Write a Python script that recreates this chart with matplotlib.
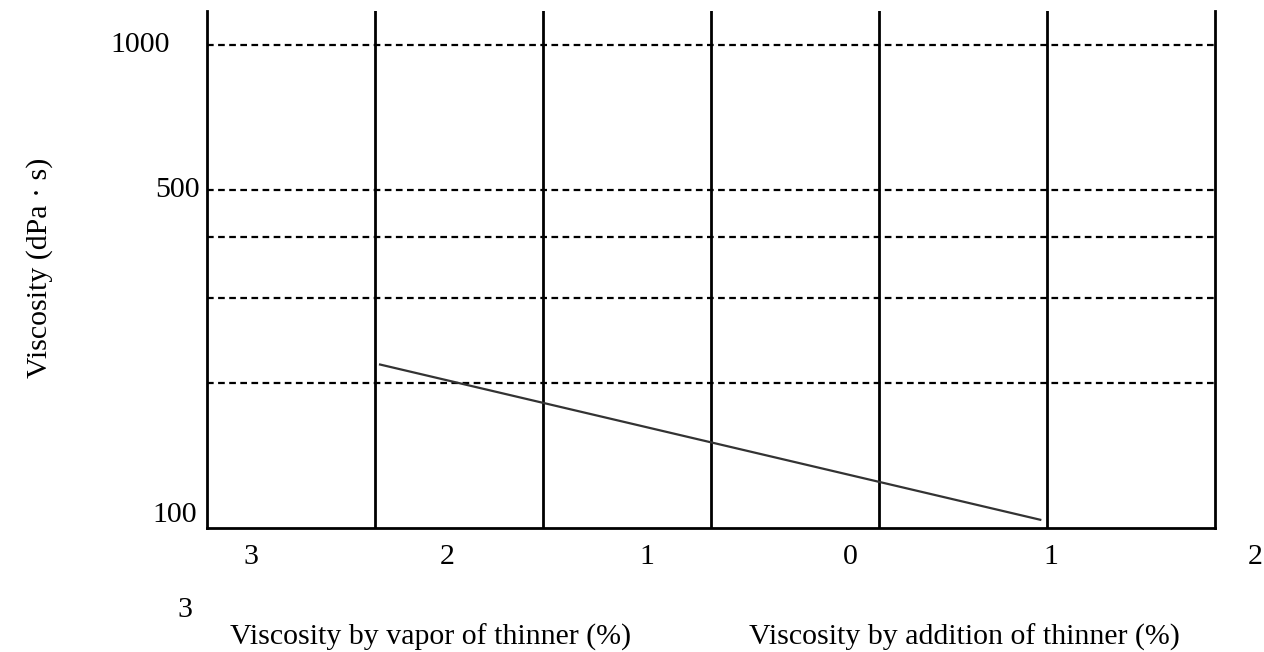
import matplotlib
matplotlib.use("Agg")
import matplotlib.pyplot as plt

plt.rcParams["font.family"] = ["Liberation Serif", "DejaVu Serif"]

# grid columns run 0..6, solid dividers at the inner columns
divider_cols = [1, 2, 3, 4, 5]
dashed_levels = [200, 300, 400, 500, 1000]

# viscosity line (start / end)
line_x = [1.03, 4.96]
line_y = [218, 104]

# bottom tick labels as printed (they do not sit on the dividers)
xtick_labels = ["3", "2", "1", "0", "1", "2"]
xtick_pos = [0.26, 1.43, 2.62, 3.83, 5.02, 6.24]

ytick_labels = ["1000", "500", "100"]
ytick_values = [1000, 500, 100]

FS = 21.5

fig = plt.figure(figsize=(12.64, 6.52), dpi=100)
ax = fig.add_axes([0.1638, 0.1902, 0.7974, 0.7929])
ax.set_xlim(0, 6)
ax.set_yscale("log")
ax.set_ylim(100, 1176)

for col in divider_cols:
    ax.axvline(col, color="black", lw=2, zorder=2)
for level in dashed_levels:
    ax.axhline(level, color="black", lw=1.6, ls=(0, (3, 2)), zorder=1)

ax.plot(line_x, line_y, color="#333333", lw=1.6, zorder=3)

ax.spines["top"].set_visible(False)
for side in ["left", "right", "bottom"]:
    ax.spines[side].set_linewidth(2)
ax.set_xticks([])
ax.set_yticks([])
ax.minorticks_off()

xt = ax.get_xaxis_transform()
for label, pos in zip(xtick_labels, xtick_pos):
    ax.text(pos, -0.056, label, transform=xt, ha="center", va="center", fontsize=FS)
ax.text(-0.13, -0.159, "3", transform=xt, ha="center", va="center", fontsize=FS)

ax.text(1.33, -0.211, "Viscosity by vapor of thinner (%)", transform=xt,
        ha="center", va="center", fontsize=FS)
ax.text(4.51, -0.211, "Viscosity by addition of thinner (%)", transform=xt,
        ha="center", va="center", fontsize=FS)

yt = ax.get_yaxis_transform()
label_right = {"1000": -0.037, "500": -0.007, "100": -0.010}
for label, value in zip(ytick_labels, ytick_values):
    va = "bottom" if value == 100 else "center"
    ax.text(label_right[label], value, label, transform=yt, ha="right", va=va, fontsize=FS)

fig.text(40 / 1264, 1 - 268 / 652, "Viscosity (dPa \u00b7 s)", rotation=90,
         ha="center", va="center", fontsize=FS)

fig.savefig("out.png", dpi=100)
